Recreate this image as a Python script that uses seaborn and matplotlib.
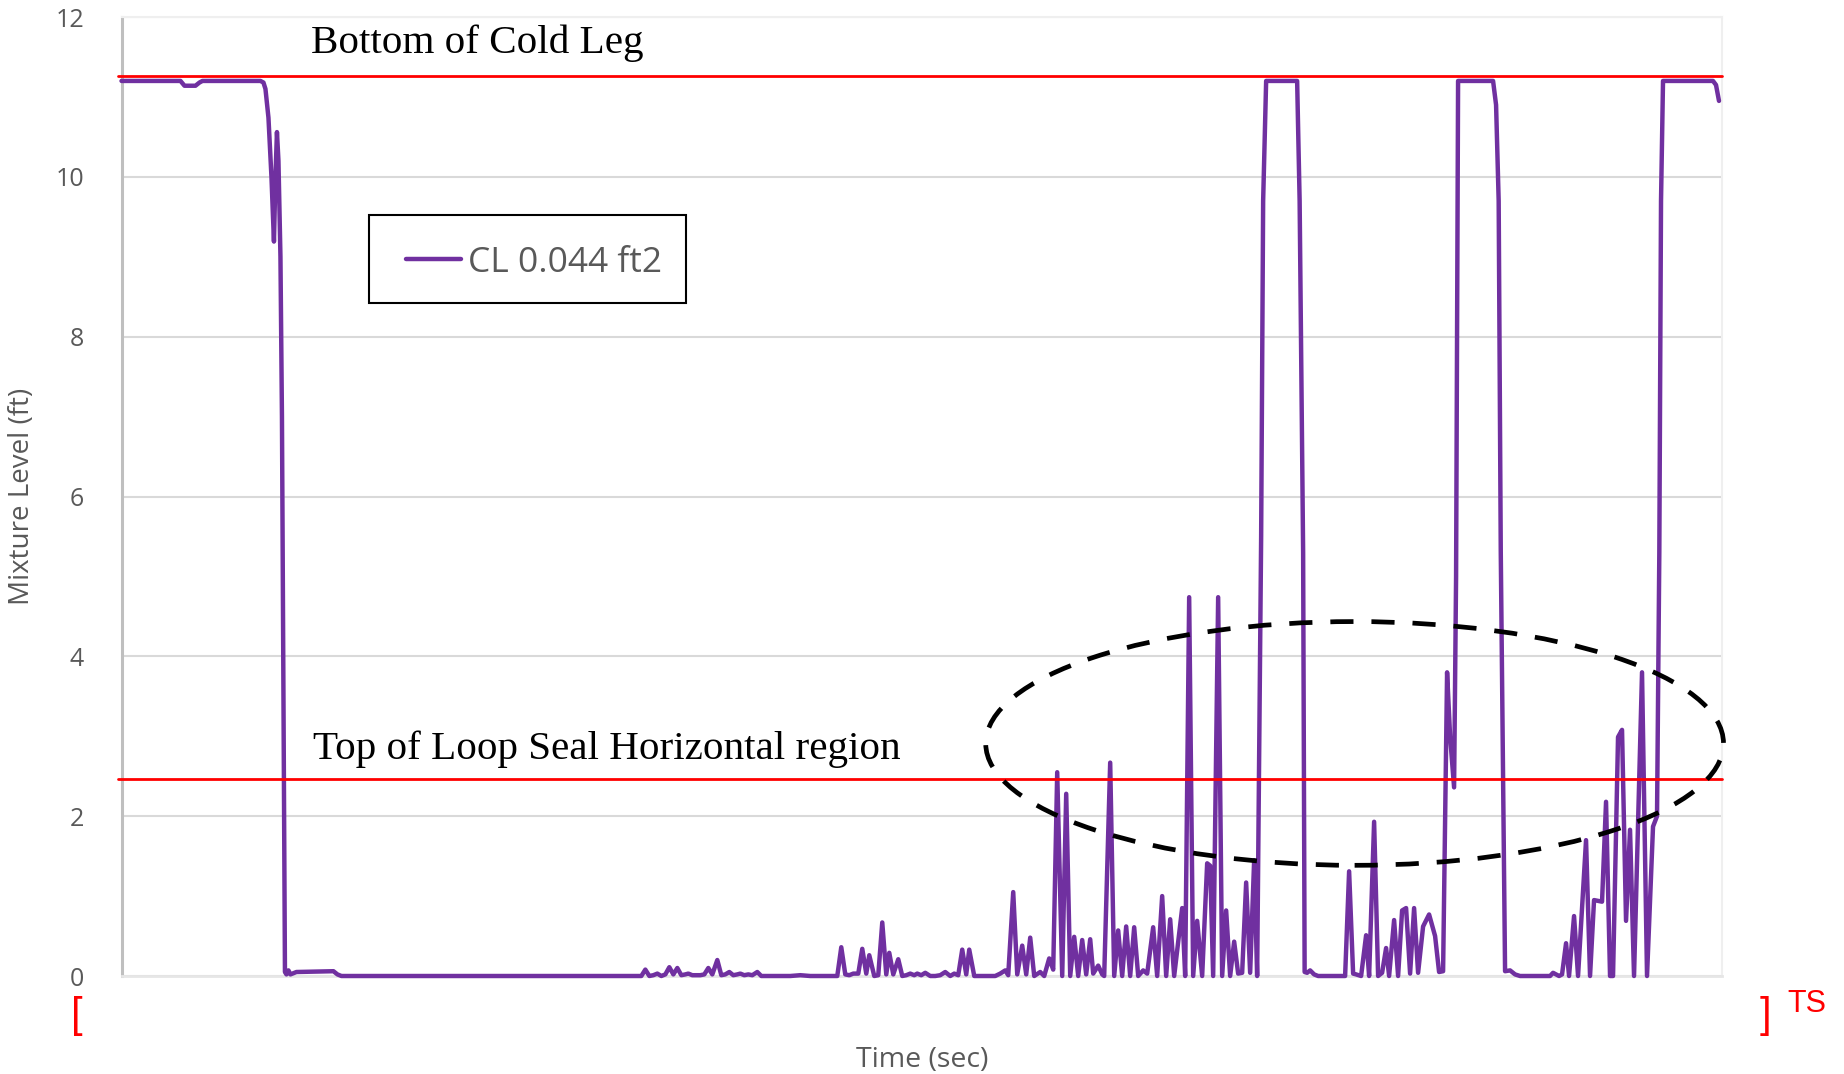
# Mixture level in the cold leg vs time, CL 0.044 ft2 break

import numpy as np
import pandas as pd
import matplotlib
matplotlib.use("Agg")
import matplotlib.pyplot as plt
from matplotlib.patches import Ellipse, Rectangle
import seaborn as sns

# --- data (time in sec, level in ft) ---
time_plateau = [0, 59, 63, 74, 78, 81, 139, 142, 144, 147, 150, 152.5, 154, 155.5, 157,
                159, 160.5, 162, 163.5, 165, 167, 169, 175, 212, 216, 220]
level_plateau = [11.2, 11.2, 11.14, 11.14, 11.18, 11.2, 11.2, 11.18, 11.1, 10.74, 10.0, 9.19, 10.0, 10.56, 10.2,
                 9.0, 7.0, 3.5, 0.05, 0.02, 0.07, 0.02, 0.05, 0.06, 0.02, 0.0]

time_ripple = [520, 524, 528, 532, 536, 540, 544, 548, 552, 556,
               560, 564, 567, 571, 579, 583, 587, 591, 596, 600,
               604, 608, 612, 616, 619, 623, 627, 631, 636, 640,
               669, 679, 689, 716, 720, 724, 728, 732, 737, 741,
               745, 748, 753, 757, 761, 765, 768, 772, 777, 781,
               785, 789, 793, 796, 800, 804, 809, 814, 819, 824,
               829, 833, 837, 841, 845, 848, 853, 874, 879, 884,
               887]
level_ripple = [0, 0.08, 0, 0.01, 0.03, 0, 0.02, 0.11, 0.02, 0.1,
                0.01, 0.02, 0.03, 0.01, 0.01, 0.02, 0.1, 0.02, 0.2, 0.01,
                0.02, 0.05, 0.01, 0.02, 0.03, 0.01, 0.02, 0.01, 0.05, 0.0,
                0, 0.01, 0, 0, 0.36, 0.02, 0.01, 0.03, 0.03, 0.34,
                0.03, 0.26, 0.0, 0.01, 0.67, 0.02, 0.29, 0.02, 0.21, 0.0,
                0.01, 0.03, 0.01, 0.03, 0.01, 0.04, 0.0, 0.0, 0.01, 0.05,
                0.0, 0.03, 0.01, 0.33, 0.02, 0.33, 0.0, 0.0, 0.03, 0.07,
                0.01]

time_spikes = [892, 896, 901, 905, 909, 913, 919, 923, 928, 932,
               936, 941, 945, 949, 953, 957, 961, 965, 969, 972,
               977, 981, 983, 989, 993, 997, 1001, 1005, 1009, 1013,
               1017, 1022, 1026, 1032, 1036, 1041, 1045, 1049, 1053, 1061,
               1064, 1068, 1072, 1076, 1081, 1086, 1089, 1092, 1097, 1101,
               1105, 1109, 1113, 1117, 1121, 1125, 1129, 1133, 1136]
level_spikes = [1.05, 0.02, 0.38, 0.02, 0.48, 0.0, 0.05, 0.0, 0.22, 0.08,
                2.55, 0.0, 2.28, 0.0, 0.49, 0.0, 0.45, 0.02, 0.46, 0.03,
                0.13, 0.02, 0.0, 2.67, 0.0, 0.57, 0.0, 0.62, 0.0, 0.61,
                0.0, 0.07, 0.03, 0.61, 0.0, 1.0, 0.0, 0.71, 0.0, 0.85,
                0.0, 4.74, 0.0, 0.69, 0.0, 1.41, 1.38, 0.0, 4.74, 0.0,
                0.82, 0.0, 0.43, 0.03, 0.04, 1.17, 0.04, 1.45, 0.0]

time_refill = [1140, 1142, 1145, 1176, 1178.5, 1182, 1183.5, 1186, 1189, 1193,
               1197, 1224, 1228, 1232, 1235, 1240, 1245, 1248, 1253, 1257,
               1261, 1265, 1268, 1273, 1277, 1281, 1285, 1289, 1293, 1297,
               1302, 1308, 1314, 1318, 1322, 1326, 1329, 1333, 1335, 1337,
               1372, 1375, 1377.6, 1379.7, 1384, 1389, 1394, 1399, 1429, 1432,
               1438, 1441, 1445, 1448, 1453, 1457, 1465, 1469, 1473, 1481,
               1485, 1489, 1492, 1497, 1501, 1505, 1509, 1513, 1521, 1526,
               1532, 1536, 1538.3, 1540, 1542, 1592, 1595, 1598]
level_refill = [5.5, 9.7, 11.2, 11.2, 9.7, 5.3, 0.05, 0.04, 0.07, 0.02,
                0.0, 0.0, 1.31, 0.03, 0.02, 0.0, 0.51, 0.0, 1.93, 0.0,
                0.04, 0.35, 0.0, 0.7, 0.0, 0.82, 0.85, 0.03, 0.85, 0.04,
                0.62, 0.77, 0.5, 0.05, 0.06, 3.8, 3.0, 2.36, 5.0, 11.2,
                11.2, 10.9, 9.7, 5.3, 0.06, 0.07, 0.02, 0.0, 0.0, 0.04,
                0.0, 0.02, 0.41, 0.0, 0.75, 0.0, 1.7, 0.0, 0.95, 0.93,
                2.18, 0.0, 0.0, 2.99, 3.08, 0.69, 1.83, 0.0, 3.8, 0.0,
                1.87, 2.0, 5.3, 9.7, 11.2, 11.2, 11.15, 10.95]

series_label = "CL 0.044 ft2"
cold_leg_bottom = 11.26
loop_seal_top = 2.47

df = pd.DataFrame({
    "time": time_plateau + time_ripple + time_spikes + time_refill,
    "level": level_plateau + level_ripple + level_spikes + level_refill,
})

# --- style ---
sns.set_theme(style="white")
plt.rcParams["font.family"] = ["Open Sans", "DejaVu Sans"]

W, H = 1844, 1074
fig = plt.figure(figsize=(W / 100, H / 100), dpi=100)
ax = fig.add_axes([121.5 / W, 1 - 976 / H, 1600.5 / W, 959 / H])

sns.lineplot(data=df, x="time", y="level", ax=ax, color="#7030A0", lw=3.2,
             sort=False, estimator=None, label=series_label, clip_on=False, zorder=3,
             solid_joinstyle="round", solid_capstyle="round")

# reference levels
ax.axhline(cold_leg_bottom, color="#FF0000", lw=2.0, xmin=-0.002, clip_on=False, zorder=4)
ax.axhline(loop_seal_top, color="#FF0000", lw=2.0, xmin=-0.002, clip_on=False, zorder=4)
ax.text(190, 11.55, "Bottom of Cold Leg", family="Liberation Serif", fontsize=29.6,
        color="black", va="baseline", ha="left")
ax.text(192, 2.72, "Top of Loop Seal Horizontal region", family="Liberation Serif", fontsize=29.6,
        color="black", va="baseline", ha="left")

# dashed ellipse around the oscillation region
ax.add_patch(Ellipse((1233.5, 2.91), width=738, height=3.05, fill=False, ec="black",
                     lw=3.4, linestyle=(0, (4.9, 3.8)), clip_on=False, zorder=5))

ax.set_xlim(0, 1601)
ax.set_ylim(0, 12)
ax.set_yticks(range(0, 13, 2))
ax.set_xticks([])
ax.yaxis.grid(True, color="#d9d9d9", lw=1.5)
ax.xaxis.grid(False)
ax.tick_params(axis="y", length=0, pad=27, labelsize=18, labelcolor="#595959")

for side in ["top", "right"]:
    ax.spines[side].set_color("#efefef")
    ax.spines[side].set_linewidth(1.5)
ax.spines["bottom"].set_color("#e6e6e6")
ax.spines["bottom"].set_linewidth(2)
ax.spines["left"].set_color("#bfbfbf")
ax.spines["left"].set_linewidth(2.2)

ax.set_ylabel("Mixture Level (ft)", fontsize=20, color="#595959")
ax.yaxis.set_label_coords(-0.0534, 0.5)
ax.set_xlabel("Time (sec)", fontsize=20.5, color="#595959")
ax.xaxis.set_label_coords(0.5, -0.073)

# legend: frame drawn by hand so the padding matches
ax.add_patch(Rectangle((369 / W, 1 - 303 / H), 317 / W, 88 / H, transform=fig.transFigure,
                       fill=True, fc="white", ec="black", lw=1.5, zorder=6, clip_on=False))
leg = ax.legend(loc="center left", bbox_to_anchor=(406 / W, 1 - 262.5 / H),
                bbox_transform=fig.transFigure, frameon=False, fontsize=25.5,
                handlelength=1.55, handletextpad=0.2, borderpad=0, borderaxespad=0,
                labelcolor="#595959")
leg.set_zorder(7)

# red bracket marks
fig.text(77 / W, 1 - 1016 / H, "[", color="red", fontsize=30, ha="center", va="center",
         family="Liberation Sans")
fig.text(1765 / W, 1 - 1016 / H, "]", color="red", fontsize=30, ha="center", va="center",
         family="Liberation Sans")
fig.text(1787 / W, 1 - 1004 / H, "TS", color="red", fontsize=22, ha="left", va="center",
         family="Liberation Sans")

plt.savefig("out.png", dpi=100)
